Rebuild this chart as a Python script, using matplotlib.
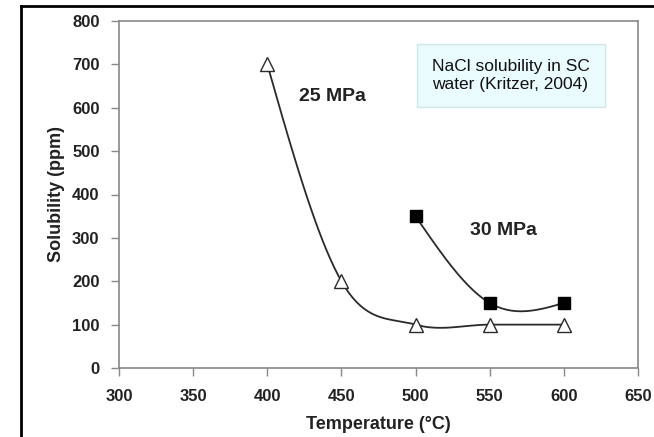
import numpy as np
import matplotlib
matplotlib.use("Agg")
import matplotlib.pyplot as plt
from matplotlib.lines import Line2D

plt.rcParams['font.family'] = ['Liberation Sans', 'DejaVu Sans']

temp_25 = [400, 450, 500, 550, 600]
sol_25 = [700, 200, 100, 100, 100]
temp_30 = [500, 550, 600]
sol_30 = [350, 150, 150]

x_ticks = [300, 350, 400, 450, 500, 550, 600, 650]
y_ticks = [0, 100, 200, 300, 400, 500, 600, 700, 800]


def smooth(x, y, n=40):
    # Excel-style smoothed line: cubic Bezier through the points,
    # inner tangents from neighbours, natural (half-way) ends
    p = np.column_stack([x, y]).astype(float)
    m = len(p)
    t = np.linspace(0, 1, n)[:, None]
    out = []
    for i in range(m - 1):
        p0, p3 = p[i], p[i + 1]
        c1 = p0 + (p[i + 1] - p[i - 1]) / 6 if i > 0 else None
        c2 = p3 - (p[i + 2] - p[i]) / 6 if i + 2 < m else None
        if c1 is None and c2 is None:
            c1 = p0 + (p3 - p0) / 3
            c2 = p0 + 2 * (p3 - p0) / 3
        elif c1 is None:
            c1 = p0 + (c2 - p0) / 2
        elif c2 is None:
            c2 = p3 + (c1 - p3) / 2
        seg = ((1 - t) ** 3) * p0 + 3 * ((1 - t) ** 2) * t * c1 + 3 * (1 - t) * t ** 2 * c2 + t ** 3 * p3
        out.append(seg)
    out = np.vstack(out)
    return out[:, 0], out[:, 1]


fig = plt.figure(figsize=(6.54, 4.37), dpi=100)
ax = fig.add_axes([119 / 654, 1 - 368 / 437, 519 / 654, 347 / 437])

# outer black frame (left and top edges visible)
fig.add_artist(Line2D([21 / 654, 21 / 654], [0, 1 - 6 / 437], color='black', lw=2, transform=fig.transFigure))
fig.add_artist(Line2D([21 / 654, 1], [1 - 6 / 437, 1 - 6 / 437], color='black', lw=2, transform=fig.transFigure))

sx, sy = smooth(temp_25, sol_25)
ax.plot(sx, sy, color='#2a2a2a', lw=1.3, zorder=2)
ax.plot(temp_25, sol_25, ls='none', marker='^', ms=10, mfc='white', mec='#2a2a2a', mew=1.0, zorder=3)

sx, sy = smooth(temp_30, sol_30)
ax.plot(sx, sy, color='#2a2a2a', lw=1.3, zorder=2)
ax.plot(temp_30, sol_30, ls='none', marker='s', ms=8, mfc='black', mec='black', zorder=3)

ax.set_xlim(300, 650)
ax.set_ylim(0, 800)
ax.set_xticks(x_ticks)
ax.set_yticks(y_ticks)

for s in ax.spines.values():
    s.set_color('#888888')
    s.set_linewidth(1.2)
ax.tick_params(direction='out', length=6, width=1, color='#888888', labelsize=12, pad=8)
ax.tick_params(axis='x', pad=9)
for lab in ax.get_xticklabels() + ax.get_yticklabels():
    lab.set_fontweight('bold')
    lab.set_color('#222222')

ax.set_xlabel('Temperature (°C)', fontsize=13, fontweight='bold', color='#222222', labelpad=9)
ax.set_ylabel('Solubility (ppm)', fontsize=13, fontweight='bold', color='#222222', labelpad=5)

ax.text(444, 627, '25 MPa', fontsize=14, fontweight='bold', ha='center', va='center', color='#222222')
ax.text(559, 318, '30 MPa', fontsize=14, fontweight='bold', ha='center', va='center', color='#222222')

ax.text(0.603, 0.843, 'NaCl solubility in SC\nwater (Kritzer, 2004)', transform=ax.transAxes,
        fontsize=12.5, ha='left', va='center', linespacing=1.25, color='#111111',
        bbox=dict(boxstyle='square,pad=0.85', facecolor='#eafcfd', edgecolor='#cfe6e8', lw=1))

fig.savefig('out.png', dpi=100)
